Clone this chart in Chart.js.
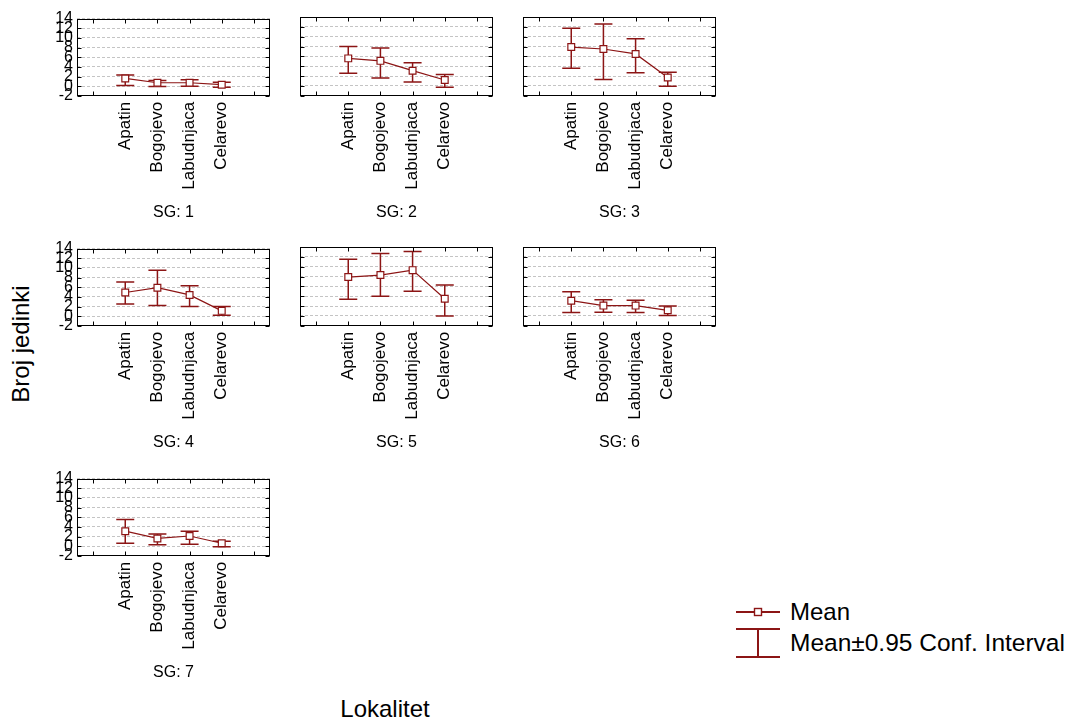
<!DOCTYPE html>
<html>
<head>
<meta charset="utf-8">
<script src="https://cdn.jsdelivr.net/npm/chart.js@4.4.1/dist/chart.umd.min.js"></script>
<style>
  body { margin: 0; background: #fff; }
  #page { position: relative; width: 1074px; height: 721px; overflow: hidden;
          font-family: "Liberation Sans", Arial, sans-serif; color: #000; }
  #page canvas { position: absolute; }
  .txt { position: absolute; white-space: nowrap; font-size: 24px; line-height: 28px; }
  #yTitle { left: 21px; top: 344px; transform: translate(-50%, -50%) rotate(-90deg); }
  #xTitle { left: 385px; top: 709px; transform: translate(-50%, -50%); }
  .legend-icon { position: absolute; }
</style>
</head>
<body>
<div id="page">
  <div class="txt" id="yTitle">Broj jedinki</div>
  <div class="txt" id="xTitle">Lokalitet</div>

  <svg class="legend-icon" style="left:736px; top:602px" width="46" height="20">
    <line x1="0" y1="10" x2="44" y2="10" stroke="#8c1515" stroke-width="2"/>
    <rect x="18.5" y="6.5" width="7" height="7" fill="#fff" stroke="#8c1515" stroke-width="1.4"/>
  </svg>
  <div class="txt" style="left:790px; top:598px">Mean</div>

  <svg class="legend-icon" style="left:736px; top:626px" width="46" height="34">
    <line x1="0" y1="3" x2="44" y2="3" stroke="#8c1515" stroke-width="2"/>
    <line x1="22" y1="3" x2="22" y2="31" stroke="#8c1515" stroke-width="2"/>
    <line x1="0" y1="31" x2="44" y2="31" stroke="#8c1515" stroke-width="2"/>
  </svg>
  <div class="txt" style="left:790px; top:629px; font-size:24.5px">Mean±0.95 Conf. Interval</div>
</div>

<script>
const sites = ["Apatin", "Bogojevo", "Labudnjaca", "Celarevo"];
const groups = ["SG: 1", "SG: 2", "SG: 3", "SG: 4", "SG: 5", "SG: 6", "SG: 7"];
const yTicks = [-2, 0, 2, 4, 6, 8, 10, 12, 14];

// mean per site, one row per group
const means = [
  [1.6, 0.7, 0.7, 0.3],
  [5.6, 5.1, 3.1, 1.2],
  [7.9, 7.5, 6.5, 1.7],
  [4.9, 5.9, 4.4, 1.1],
  [7.9, 8.3, 9.3, 3.5],
  [3.1, 2.1, 2.1, 1.15],
  [3.1, 1.6, 2.1, 0.6],
];
// lower / upper ends of the 0.95 confidence interval
const lower = [
  [0.15, -0.05, 0.0, -0.25],
  [2.6, 1.6, 0.8, -0.25],
  [3.6, 1.3, 2.7, -0.05],
  [2.5, 2.2, 2.0, 0.2],
  [3.4, 4.0, 5.0, 0.0],
  [0.7, 0.75, 0.7, 0.1],
  [0.6, 0.3, 0.4, -0.1],
];
const upper = [
  [2.3, 1.15, 1.35, 0.8],
  [8.0, 7.7, 4.7, 2.3],
  [11.7, 12.6, 9.6, 2.8],
  [7.1, 9.5, 6.3, 2.0],
  [11.5, 12.7, 13.1, 6.3],
  [4.9, 3.3, 3.2, 2.0],
  [5.5, 2.5, 3.1, 1.0],
];

const RED = "#8c1515";
const FONT = "'Liberation Sans', Arial, sans-serif";

// empty slot on each side of the four sites
const xLabels = ["", ...sites, ""];

const errorBars = {
  id: "errorBars",
  beforeDatasetsDraw(chart, args, opts) {
    const { ctx } = chart;
    const { x, y } = chart.scales;
    ctx.save();
    ctx.strokeStyle = RED;
    ctx.lineWidth = 1.5;
    opts.low.forEach((lo, i) => {
      const px = x.getPixelForValue(i + 1);
      const top = y.getPixelForValue(opts.high[i]);
      const bot = y.getPixelForValue(lo);
      ctx.beginPath();
      ctx.moveTo(px, top);
      ctx.lineTo(px, bot);
      ctx.moveTo(px - 9, top);
      ctx.lineTo(px + 9, top);
      ctx.moveTo(px - 9, bot);
      ctx.lineTo(px + 9, bot);
      ctx.stroke();
    });
    ctx.restore();
  },
};

// box round the plot with small inward ticks on every side
const frame = {
  id: "frame",
  afterDraw(chart) {
    const { ctx, chartArea: a } = chart;
    const { x, y } = chart.scales;
    const L = Math.round(a.left) + 0.5, R = Math.round(a.right) - 0.5;
    const T = Math.round(a.top) + 0.5, B = Math.round(a.bottom) - 0.5;
    ctx.save();
    ctx.strokeStyle = "#000";
    ctx.lineWidth = 1;
    ctx.strokeRect(L, T, R - L, B - T);
    ctx.beginPath();
    xLabels.forEach((_, i) => {
      const px = Math.round(x.getPixelForValue(i)) + 0.5;
      ctx.moveTo(px, T); ctx.lineTo(px, T + 4);
      ctx.moveTo(px, B); ctx.lineTo(px, B - 4);
    });
    yTicks.forEach((v) => {
      const py = Math.round(y.getPixelForValue(v)) + 0.5;
      ctx.moveTo(L, py); ctx.lineTo(L + 4, py);
      ctx.moveTo(R, py); ctx.lineTo(R - 4, py);
    });
    ctx.stroke();
    ctx.restore();
  },
};

const page = document.getElementById("page");
const plotLefts = [77, 300, 523];
const plotTops = [17, 247, 477];

groups.forEach((title, g) => {
  const col = g % 3, row = Math.floor(g / 3);
  const canvas = document.createElement("canvas");
  canvas.width = 293;
  canvas.height = 225;
  canvas.style.left = plotLefts[col] - 50 + "px";
  canvas.style.top = plotTops[row] - 12 + "px";
  page.appendChild(canvas);

  new Chart(canvas, {
    type: "line",
    data: {
      labels: xLabels,
      datasets: [{
        data: [null, ...means[g], null],
        borderColor: RED,
        borderWidth: 1.2,
        pointStyle: "rect",
        pointRadius: 4.8,
        pointBackgroundColor: "#fff",
        pointBorderColor: RED,
        pointBorderWidth: 1.2,
        tension: 0,
      }],
    },
    options: {
      responsive: false,
      animation: false,
      events: [],
      layout: { padding: { top: 12, right: 0, left: 0, bottom: 0 } },
      plugins: {
        legend: { display: false },
        tooltip: { enabled: false },
        title: {
          display: true,
          position: "bottom",
          text: title,
          color: "#000",
          font: { family: FONT, size: 16, weight: "normal" },
          padding: { top: 12, bottom: 8 },
        },
        errorBars: { low: lower[g], high: upper[g] },
      },
      scales: {
        x: {
          type: "category",
          offset: true,
          grid: { display: false, drawTicks: false },
          border: { display: false },
          ticks: {
            autoSkip: false,
            minRotation: 90,
            maxRotation: 90,
            padding: 6,
            color: "#000",
            font: { family: FONT, size: 17 },
          },
          afterFit: (scale) => { scale.height = 95; },
        },
        y: {
          min: yTicks[0],
          max: yTicks[yTicks.length - 1],
          grid: { color: "#c4c4c4", lineWidth: 1, drawTicks: false },
          border: { display: false, dash: [3, 2] },
          ticks: {
            display: col === 0,
            stepSize: 2,
            autoSkip: false,
            padding: 4,
            color: "#000",
            font: { family: FONT, size: 16 },
          },
          afterFit: (scale) => { scale.width = 50; },
        },
        // empty gutter on the right so the bottom title sits centred under the plot
        gutter: {
          position: "right",
          grid: { display: false, drawTicks: false },
          border: { display: false },
          ticks: { display: false },
          afterFit: (scale) => { scale.width = 50; },
        },
      },
    },
    plugins: [errorBars, frame],
  });
});
</script>
</body>
</html>
